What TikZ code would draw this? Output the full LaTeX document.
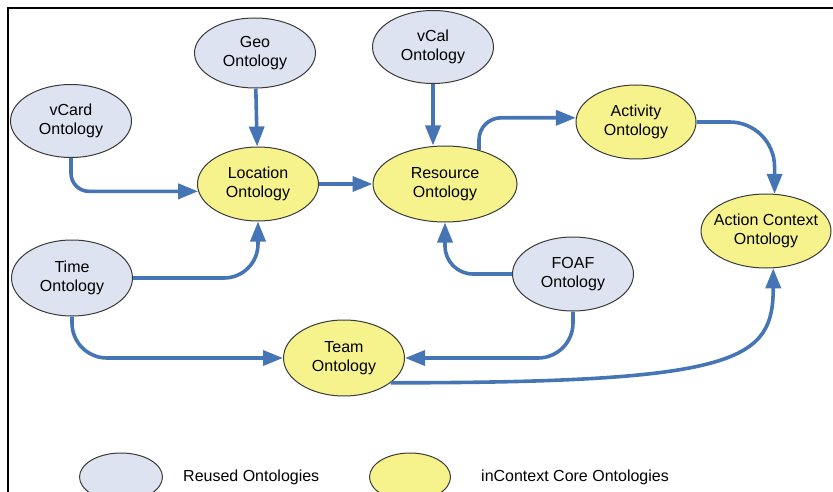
\documentclass[tikz,border=0pt]{standalone}
\usepackage{fontspec}
\setmainfont{Liberation Sans}
\usepackage{xcolor}
\usepackage{tikz}
\usetikzlibrary{positioning, arrows.meta, shapes.geometric}
\definecolor{reusedfill}{HTML}{DDE3F0}
\definecolor{corefill}{HTML}{F6F38C}
\definecolor{linkblue}{HTML}{4675B5}
\definecolor{ovalborder}{HTML}{3A3A3A}
\tikzset{
  onto/.style={ellipse, draw=ovalborder, line width=1pt, minimum width=121pt,
               minimum height=74pt, inner sep=0pt, align=center,
               font=\fontsize{16}{19}\selectfont},
  reused/.style={onto, fill=reusedfill},
  core/.style={onto, fill=corefill},
  link/.style={draw=linkblue, line width=3.6pt, -{Triangle[length=20pt, width=15pt]}},
  legtext/.style={inner sep=0pt, font=\fontsize{16}{19}\selectfont}
}

\begin{document}
\begin{tikzpicture}[x=1pt, y=-1pt]
    \useasboundingbox (0,0) rectangle (833,492);
    \clip (0,0) rectangle (833,492);
    \draw[line width=2.5pt] (8,492) -- (8,8) -- (833,8);

    % reused ontologies
    \node[reused, minimum height=70pt] (geo) at (255,53) {Geo\\Ontology};
    \node[reused, minimum height=73pt] (vcard) at (71,121) {vCard\\Ontology};
    \node[reused, minimum height=73pt] (vcal) at (433,47) {vCal\\Ontology};
    \node[reused, minimum height=76pt] (time) at (72,278) {Time\\Ontology};
    \node[reused] (foaf) at (573,274) {FOAF\\Ontology};

    % core ontologies
    \node[core] (location) at (258,184) {Location\\Ontology};
    \node[core, minimum width=144pt, minimum height=76pt] (resource) at (445,184) {Resource\\Ontology};
    \node[core, minimum width=120pt] (activity) at (636,122) {Activity\\Ontology};
    \node[core, minimum width=130pt, inner xsep=-15pt] (action) at (766,231) {Action Context\\Ontology};
    \node[core, minimum height=76pt] (team) at (344,358) {Team\\Ontology};

    \draw[link] (geo) -- (location);
    \draw[link] (vcal.south) -- (vcal.south |- resource.north);
    \draw[link, rounded corners=18pt] (vcard.south) |- (location.187);
    \draw[link] (location) -- (resource);
    \draw[link, rounded corners=34pt] (time.east) -| (location.south);
    \draw[link, rounded corners=35pt] (time.south) |- (team.west);
    \draw[link, rounded corners=22pt] (resource.45) |- (activity.176);
    \draw[link, rounded corners=45pt] (activity.east) -| (action.77);
    \draw[link, rounded corners=28pt] (foaf.west) -| (resource.south);
    \draw[link, rounded corners=35pt] (foaf.south) |- (team.east);
    \draw[link] (team.-28) .. controls +(350,0) and +(0,92) .. (action.-79);

    % legend
    \node[reused, minimum width=83pt, minimum height=48pt] (legreused) at (121,477) {};
    \node[legtext, right=20pt of legreused] (legreusedtext) {Reused Ontologies};
    \node[core, minimum width=81pt, minimum height=48pt] (legcore) at (410,477) {};
    \node[legtext, right=30pt of legcore] (legcoretext) {inContext Core Ontologies};
\end{tikzpicture}
\end{document}
